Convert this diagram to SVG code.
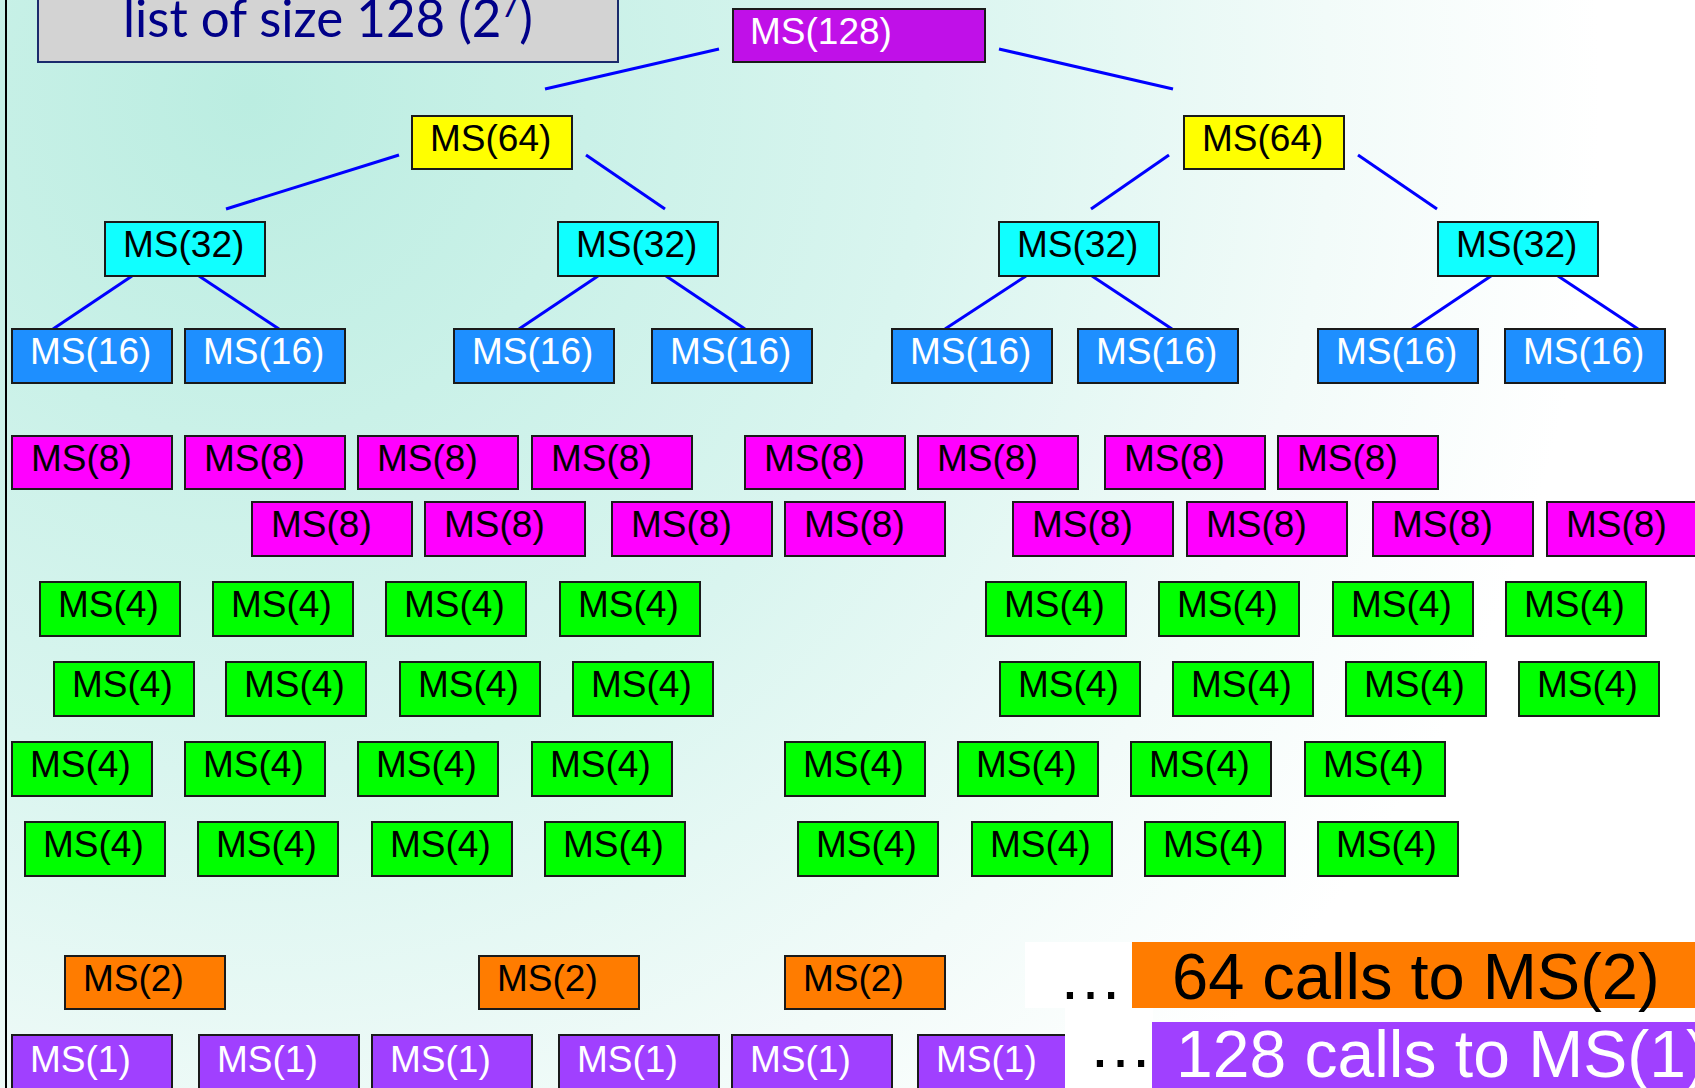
<svg xmlns="http://www.w3.org/2000/svg" width="1695" height="1088" viewBox="0 0 1695 1088">
<defs>
<radialGradient id="bg" gradientUnits="userSpaceOnUse" cx="250" cy="100" r="1350">
<stop offset="0" stop-color="#bbede1"/>
<stop offset="0.5" stop-color="#d9f5ef"/>
<stop offset="0.8" stop-color="#f2fbf9"/>
<stop offset="1" stop-color="#ffffff"/>
</radialGradient>
</defs>
<style>
.n rect{stroke:#1a1a1a;stroke-width:2}
.n text{font-family:"Liberation Sans",Arial,sans-serif;font-size:37px}
.c128 rect{fill:#c010e8}.c64 rect{fill:#ffff00}.c32 rect{fill:#10ffff}.c16 rect{fill:#1e8fff}
.c8 rect{fill:#ff00ff}.c4 rect{fill:#00ff00}.c2 rect{fill:#ff7c00}.c1 rect{fill:#a040ff}
.w text{fill:#ffffff}.k text{fill:#000000}
#connectors line{stroke:#0000ff;stroke-width:3}
.big{font-family:"Liberation Sans",Arial,sans-serif}
</style>
<rect x="0" y="0" width="1695" height="1088" fill="url(#bg)"/>
<line x1="6" y1="0" x2="6" y2="1088" stroke="#000" stroke-width="2"/>

<g id="title">
<rect x="38" y="-10" width="580" height="72" fill="#d3d3d3" stroke="#1a2a6c" stroke-width="2"/>
<text x="123" y="37" font-family="Lato,'Open Sans',sans-serif" font-size="53" fill="#000088" textLength="410" lengthAdjust="spacingAndGlyphs">list of size 128 (2<tspan font-size="32" dy="-20">7</tspan><tspan dy="20">)</tspan></text>
</g>

<g id="connectors">
<line x1="719" y1="49" x2="545" y2="89"/>
<line x1="999" y1="49" x2="1173" y2="89"/>
<line x1="399" y1="155" x2="226" y2="209"/>
<line x1="586" y1="155" x2="665" y2="209"/>
<line x1="1169" y1="155" x2="1091" y2="209"/>
<line x1="1358" y1="155" x2="1437" y2="209"/>
<line x1="132" y1="276" x2="53" y2="329"/>
<line x1="199" y1="276" x2="279" y2="329"/>
<line x1="598" y1="276" x2="519" y2="329"/>
<line x1="666" y1="276" x2="745" y2="329"/>
<line x1="1026" y1="276" x2="945" y2="329"/>
<line x1="1092" y1="276" x2="1172" y2="329"/>
<line x1="1491" y1="276" x2="1412" y2="329"/>
<line x1="1558" y1="276" x2="1638" y2="329"/>
</g>

<g id="ms128" class="n c128 w"><rect x="733" y="9" width="252" height="53"/><text x="750" y="44">MS(128)</text></g>

<g id="ms64-a" class="n c64 k"><rect x="412" y="116" width="160" height="53"/><text x="430" y="151">MS(64)</text></g>
<g id="ms64-b" class="n c64 k"><rect x="1184" y="116" width="160" height="53"/><text x="1202" y="151">MS(64)</text></g>

<g id="ms32-a" class="n c32 k"><rect x="105" y="222" width="160" height="54"/><text x="123" y="257">MS(32)</text></g>
<g id="ms32-b" class="n c32 k"><rect x="558" y="222" width="160" height="54"/><text x="576" y="257">MS(32)</text></g>
<g id="ms32-c" class="n c32 k"><rect x="999" y="222" width="160" height="54"/><text x="1017" y="257">MS(32)</text></g>
<g id="ms32-d" class="n c32 k"><rect x="1438" y="222" width="160" height="54"/><text x="1456" y="257">MS(32)</text></g>

<g id="ms16-a" class="n c16 w"><rect x="12" y="329" width="160" height="54"/><text x="30" y="364">MS(16)</text></g>
<g id="ms16-b" class="n c16 w"><rect x="185" y="329" width="160" height="54"/><text x="203" y="364">MS(16)</text></g>
<g id="ms16-c" class="n c16 w"><rect x="454" y="329" width="160" height="54"/><text x="472" y="364">MS(16)</text></g>
<g id="ms16-d" class="n c16 w"><rect x="652" y="329" width="160" height="54"/><text x="670" y="364">MS(16)</text></g>
<g id="ms16-e" class="n c16 w"><rect x="892" y="329" width="160" height="54"/><text x="910" y="364">MS(16)</text></g>
<g id="ms16-f" class="n c16 w"><rect x="1078" y="329" width="160" height="54"/><text x="1096" y="364">MS(16)</text></g>
<g id="ms16-g" class="n c16 w"><rect x="1318" y="329" width="160" height="54"/><text x="1336" y="364">MS(16)</text></g>
<g id="ms16-h" class="n c16 w"><rect x="1505" y="329" width="160" height="54"/><text x="1523" y="364">MS(16)</text></g>

<g id="ms8-1" class="n c8 k"><rect x="12" y="436" width="160" height="53"/><text x="31" y="471">MS(8)</text></g>
<g id="ms8-2" class="n c8 k"><rect x="185" y="436" width="160" height="53"/><text x="204" y="471">MS(8)</text></g>
<g id="ms8-3" class="n c8 k"><rect x="358" y="436" width="160" height="53"/><text x="377" y="471">MS(8)</text></g>
<g id="ms8-4" class="n c8 k"><rect x="532" y="436" width="160" height="53"/><text x="551" y="471">MS(8)</text></g>
<g id="ms8-5" class="n c8 k"><rect x="745" y="436" width="160" height="53"/><text x="764" y="471">MS(8)</text></g>
<g id="ms8-6" class="n c8 k"><rect x="918" y="436" width="160" height="53"/><text x="937" y="471">MS(8)</text></g>
<g id="ms8-7" class="n c8 k"><rect x="1105" y="436" width="160" height="53"/><text x="1124" y="471">MS(8)</text></g>
<g id="ms8-8" class="n c8 k"><rect x="1278" y="436" width="160" height="53"/><text x="1297" y="471">MS(8)</text></g>
<g id="ms8-9" class="n c8 k"><rect x="252" y="502" width="160" height="54"/><text x="271" y="537">MS(8)</text></g>
<g id="ms8-10" class="n c8 k"><rect x="425" y="502" width="160" height="54"/><text x="444" y="537">MS(8)</text></g>
<g id="ms8-11" class="n c8 k"><rect x="612" y="502" width="160" height="54"/><text x="631" y="537">MS(8)</text></g>
<g id="ms8-12" class="n c8 k"><rect x="785" y="502" width="160" height="54"/><text x="804" y="537">MS(8)</text></g>
<g id="ms8-13" class="n c8 k"><rect x="1013" y="502" width="160" height="54"/><text x="1032" y="537">MS(8)</text></g>
<g id="ms8-14" class="n c8 k"><rect x="1187" y="502" width="160" height="54"/><text x="1206" y="537">MS(8)</text></g>
<g id="ms8-15" class="n c8 k"><rect x="1373" y="502" width="160" height="54"/><text x="1392" y="537">MS(8)</text></g>
<g id="ms8-16" class="n c8 k"><rect x="1547" y="502" width="160" height="54"/><text x="1566" y="537">MS(8)</text></g>

<g id="ms4-a1" class="n c4 k"><rect x="40" y="582" width="140" height="54"/><text x="58" y="617">MS(4)</text></g>
<g id="ms4-a2" class="n c4 k"><rect x="213" y="582" width="140" height="54"/><text x="231" y="617">MS(4)</text></g>
<g id="ms4-a3" class="n c4 k"><rect x="386" y="582" width="140" height="54"/><text x="404" y="617">MS(4)</text></g>
<g id="ms4-a4" class="n c4 k"><rect x="560" y="582" width="140" height="54"/><text x="578" y="617">MS(4)</text></g>
<g id="ms4-a5" class="n c4 k"><rect x="986" y="582" width="140" height="54"/><text x="1004" y="617">MS(4)</text></g>
<g id="ms4-a6" class="n c4 k"><rect x="1159" y="582" width="140" height="54"/><text x="1177" y="617">MS(4)</text></g>
<g id="ms4-a7" class="n c4 k"><rect x="1333" y="582" width="140" height="54"/><text x="1351" y="617">MS(4)</text></g>
<g id="ms4-a8" class="n c4 k"><rect x="1506" y="582" width="140" height="54"/><text x="1524" y="617">MS(4)</text></g>

<g id="ms4-b1" class="n c4 k"><rect x="54" y="662" width="140" height="54"/><text x="72" y="697">MS(4)</text></g>
<g id="ms4-b2" class="n c4 k"><rect x="226" y="662" width="140" height="54"/><text x="244" y="697">MS(4)</text></g>
<g id="ms4-b3" class="n c4 k"><rect x="400" y="662" width="140" height="54"/><text x="418" y="697">MS(4)</text></g>
<g id="ms4-b4" class="n c4 k"><rect x="573" y="662" width="140" height="54"/><text x="591" y="697">MS(4)</text></g>
<g id="ms4-b5" class="n c4 k"><rect x="1000" y="662" width="140" height="54"/><text x="1018" y="697">MS(4)</text></g>
<g id="ms4-b6" class="n c4 k"><rect x="1173" y="662" width="140" height="54"/><text x="1191" y="697">MS(4)</text></g>
<g id="ms4-b7" class="n c4 k"><rect x="1346" y="662" width="140" height="54"/><text x="1364" y="697">MS(4)</text></g>
<g id="ms4-b8" class="n c4 k"><rect x="1519" y="662" width="140" height="54"/><text x="1537" y="697">MS(4)</text></g>

<g id="ms4-c1" class="n c4 k"><rect x="12" y="742" width="140" height="54"/><text x="30" y="777">MS(4)</text></g>
<g id="ms4-c2" class="n c4 k"><rect x="185" y="742" width="140" height="54"/><text x="203" y="777">MS(4)</text></g>
<g id="ms4-c3" class="n c4 k"><rect x="358" y="742" width="140" height="54"/><text x="376" y="777">MS(4)</text></g>
<g id="ms4-c4" class="n c4 k"><rect x="532" y="742" width="140" height="54"/><text x="550" y="777">MS(4)</text></g>
<g id="ms4-c5" class="n c4 k"><rect x="785" y="742" width="140" height="54"/><text x="803" y="777">MS(4)</text></g>
<g id="ms4-c6" class="n c4 k"><rect x="958" y="742" width="140" height="54"/><text x="976" y="777">MS(4)</text></g>
<g id="ms4-c7" class="n c4 k"><rect x="1131" y="742" width="140" height="54"/><text x="1149" y="777">MS(4)</text></g>
<g id="ms4-c8" class="n c4 k"><rect x="1305" y="742" width="140" height="54"/><text x="1323" y="777">MS(4)</text></g>

<g id="ms4-d1" class="n c4 k"><rect x="25" y="822" width="140" height="54"/><text x="43" y="857">MS(4)</text></g>
<g id="ms4-d2" class="n c4 k"><rect x="198" y="822" width="140" height="54"/><text x="216" y="857">MS(4)</text></g>
<g id="ms4-d3" class="n c4 k"><rect x="372" y="822" width="140" height="54"/><text x="390" y="857">MS(4)</text></g>
<g id="ms4-d4" class="n c4 k"><rect x="545" y="822" width="140" height="54"/><text x="563" y="857">MS(4)</text></g>
<g id="ms4-d5" class="n c4 k"><rect x="798" y="822" width="140" height="54"/><text x="816" y="857">MS(4)</text></g>
<g id="ms4-d6" class="n c4 k"><rect x="972" y="822" width="140" height="54"/><text x="990" y="857">MS(4)</text></g>
<g id="ms4-d7" class="n c4 k"><rect x="1145" y="822" width="140" height="54"/><text x="1163" y="857">MS(4)</text></g>
<g id="ms4-d8" class="n c4 k"><rect x="1318" y="822" width="140" height="54"/><text x="1336" y="857">MS(4)</text></g>

<g id="ms2-a" class="n c2 k"><rect x="65" y="956" width="160" height="53"/><text x="83" y="991">MS(2)</text></g>
<g id="ms2-b" class="n c2 k"><rect x="479" y="956" width="160" height="53"/><text x="497" y="991">MS(2)</text></g>
<g id="ms2-c" class="n c2 k"><rect x="785" y="956" width="160" height="53"/><text x="803" y="991">MS(2)</text></g>

<g id="ms1-a" class="n c1 w"><rect x="12" y="1035" width="160" height="62"/><text x="30" y="1072">MS(1)</text></g>
<g id="ms1-b" class="n c1 w"><rect x="199" y="1035" width="160" height="62"/><text x="217" y="1072">MS(1)</text></g>
<g id="ms1-c" class="n c1 w"><rect x="372" y="1035" width="160" height="62"/><text x="390" y="1072">MS(1)</text></g>
<g id="ms1-d" class="n c1 w"><rect x="559" y="1035" width="160" height="62"/><text x="577" y="1072">MS(1)</text></g>
<g id="ms1-e" class="n c1 w"><rect x="732" y="1035" width="160" height="62"/><text x="750" y="1072">MS(1)</text></g>
<g id="ms1-f" class="n c1 w"><rect x="918" y="1035" width="160" height="62"/><text x="936" y="1072">MS(1)</text></g>

<g id="summary">
<rect x="1025" y="942" width="108" height="66" fill="#ffffff"/>
<rect x="1065" y="1008" width="88" height="80" fill="#ffffff"/>
<text x="1058" y="999" class="big" font-size="65" fill="#000">…</text>
<rect x="1132" y="942" width="570" height="66" fill="#ff7c00"/>
<text x="1172" y="999" class="big" font-size="65" fill="#000">64 calls to MS(2)</text>
<text x="1088" y="1067" class="big" font-size="65" fill="#000">…</text>
<rect x="1152" y="1022" width="560" height="70" fill="#a040ff"/>
<text x="1176" y="1077" class="big" font-size="66" fill="#fff">128 calls to MS(1)</text>
</g>
</svg>
